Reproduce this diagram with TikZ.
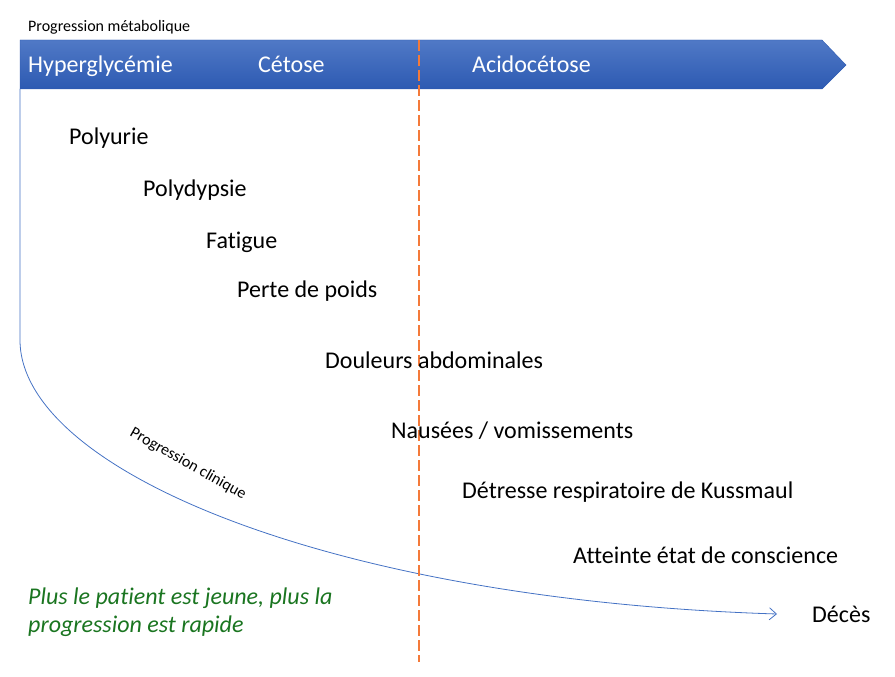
\documentclass[tikz,border=0pt]{standalone}
\usepackage{fontspec}
\setmainfont{Carlito}[Ligatures={NoCommon}]
\usetikzlibrary{arrows.meta}
\definecolor{bannertop}{HTML}{5079C6}
\definecolor{bannerbot}{HTML}{2D5AB2}
\definecolor{lineblue}{HTML}{4472C4}
\definecolor{seporange}{HTML}{F47A3A}
\definecolor{notegreen}{HTML}{1A7520}
\tikzset{
  sym/.style={anchor=base west,inner sep=0pt,font=\fontsize{24}{29}\selectfont},
  phase/.style={sym,text=white},
  small/.style={inner sep=0pt,font=\fontsize{16}{19}\selectfont},
  note/.style={anchor=base west,inner sep=0pt,align=left,text=notegreen,
    font=\fontsize{24}{28}\selectfont\itshape},
}
\begin{document}
\begin{tikzpicture}[x=1pt,y=-1pt]
\useasboundingbox (0,0) rectangle (895,677);
% banner
\shade[top color=bannertop,bottom color=bannerbot,draw=bannerbot,line width=0.4pt]
  (20,40) -- (822,40) -- (846,65) -- (822,89) -- (20,89) -- cycle;
\node[small,anchor=base west] (title) at (28,32) {Progression métabolique};
\node[phase] (hyper) at (28,73) {Hyperglycémie};
\node[phase] (cetose) at (258,73) {Cétose};
\node[phase] (acido) at (472,73) {Acidocétose};
% clinical progression curve
\coordinate (c0) at (20,89);
\coordinate (c1) at (20,340);
\coordinate (cend) at (777,614);
\draw[draw=lineblue,line width=0.8pt,-{Straight Barb[length=7,width=12]}]
  (c0) -- (c1) .. controls (20,470) and (330,600) .. (cend);
\node[small,rotate=-29.5] (clin) at (188,464) {Progression clinique};
% dashed separator
\coordinate (d0) at (419,40);
\coordinate (d1) at (419,662);
\draw[draw=seporange,line width=1.2pt,dash pattern=on 11pt off 4pt] (d0) -- (d1);
% symptoms
\node[sym] (s1) at (69,144) {Polyurie};
\node[sym] (s2) at (143,196) {Polydypsie};
\node[sym] (s3) at (206,248) {Fatigue};
\node[sym] (s4) at (237,297) {Perte de poids};
\node[sym] (s5) at (325,368) {Douleurs abdominales};
\node[sym] (s6) at (391,438) {Nausées / vomissements};
\node[sym] (s7) at (462,498) {Détresse respiratoire de Kussmaul};
\node[sym] (s8) at (573,563) {Atteinte état de conscience};
\node[sym] (s9) at (812,622) {Décès};
% note
\node[note] (n1) at (28,632) {Plus le patient est jeune, plus la\\progression est rapide};
\end{tikzpicture}
\end{document}
